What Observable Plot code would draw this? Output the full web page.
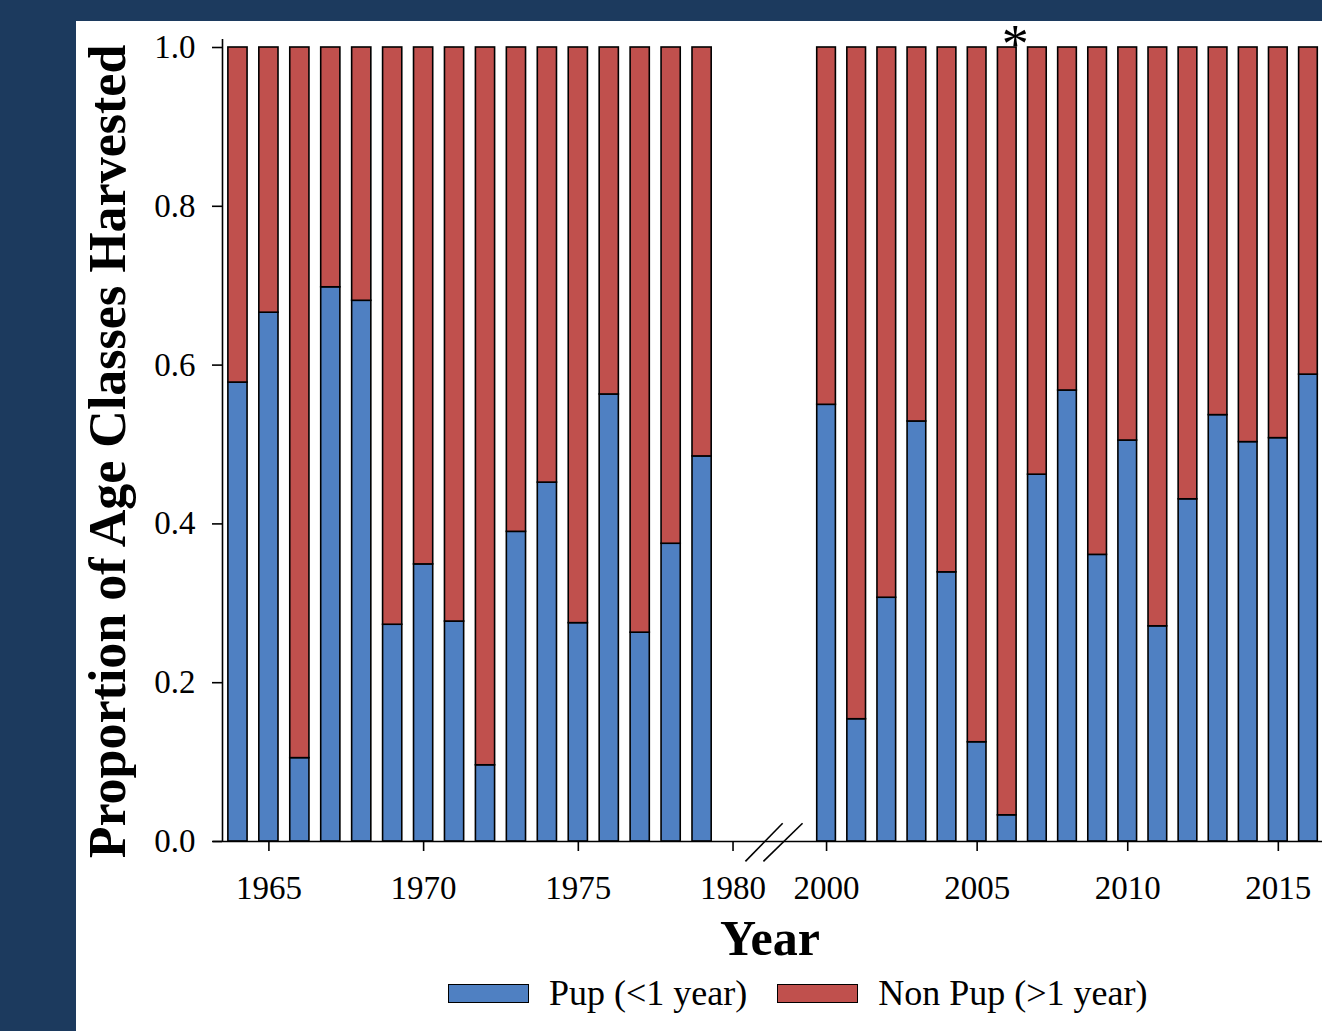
<!DOCTYPE html>
<html><head><meta charset="utf-8">
<script src="https://cdn.jsdelivr.net/npm/d3@7"></script>
<script src="https://cdn.jsdelivr.net/npm/@observablehq/plot@0.6"></script>
<style>
html,body{margin:0;padding:0;background:#1c3a5e;}
body{width:1322px;height:1031px;position:relative;overflow:hidden;}
#panel{position:absolute;left:76px;top:21px;width:1246px;height:1010px;background:#fff;font-family:"Liberation Serif","Times New Roman",serif;color:#000;}
#chart{position:absolute;left:0;top:0;}
#xtitle{position:absolute;left:594px;width:200px;top:892px;text-align:center;font-size:50px;line-height:50px;font-weight:bold;}
#legend{position:absolute;left:372px;top:952px;display:flex;align-items:center;font-size:36px;line-height:40px;white-space:nowrap;}
#legend .sw{width:79px;height:17px;border:1.5px solid #000;margin-right:20px;}
#legend .lab{margin-right:30px;}
</style>
</head><body>
<div id="panel">
  <div id="chart"></div>
  <div id="xtitle"></div>
  <div id="legend"></div>
</div>
<script>
// ---- data ----
const years = [1964,1965,1966,1967,1968,1969,1970,1971,1972,1973,1974,1975,1976,1977,1978,1979,
               2000,2001,2002,2003,2004,2005,2006,2007,2008,2009,2010,2011,2012,2013,2014,2015,2016];
const pupShare = [0.578,0.666,0.105,0.698,0.681,0.273,0.349,0.277,0.096,0.390,0.452,0.275,0.563,0.263,0.375,0.485,
                  0.550,0.154,0.307,0.529,0.339,0.125,0.033,0.462,0.568,0.361,0.505,0.271,0.431,0.537,0.503,0.508,0.588];
const classes = ["Pup (<1 year)", "Non Pup (>1 year)"];
const classColors = ["#4f80c2", "#c0504d"];
const xTicks = [1965,1970,1975,1980,2000,2005,2010,2015];
const yTicks = [0,0.2,0.4,0.6,0.8,1.0];
const markedYears = [2006];
const xDomain = [1963.5, 1980.5, 1999.5, 2016.5];
const breakLines = [ {x1:1980.4, y1:-0.025, x2:1990.8, y2:0.023}, {x1:1985.0, y1:-0.025, x2:1996.8, y2:0.023} ];
const yTitle = "Proportion of Age Classes Harvested";
const xTitle = "Year";

// ---- build table ----
const rows = [];
years.forEach((yr, i) => {
  const p = pupShare[i];
  rows.push({year: yr, cls: classes[0], y1: 0, y2: p});
  rows.push({year: yr, cls: classes[1], y1: p, y2: 1});
});
const halfW = 0.31;

const W = 1246, H = 890;
const mL = 146, mT = 26, mB = 70;

const chart = Plot.plot({
  width: W, height: H,
  marginLeft: mL, marginTop: mT, marginBottom: mB, marginRight: 0,
  style: {fontFamily: '"Liberation Serif","Times New Roman",serif', fontSize: "33px", color: "#000", background: "transparent", overflow: "visible"},
  x: {type: "linear", domain: xDomain, range: [mL, 672, 735, W + 1]},
  y: {domain: [0, 1], range: [H - mB, mT]},
  color: {domain: classes, range: classColors},
  marks: [
    Plot.rect(rows, {x1: d => d.year - halfW, x2: d => d.year + halfW, y1: "y1", y2: "y2", fill: "cls", stroke: "#000", strokeWidth: 1.6}),
    Plot.ruleY([0], {stroke: "#000", strokeWidth: 1.6, insetLeft: -9}),
    Plot.ruleX([xDomain[0]], {stroke: "#000", strokeWidth: 1.6, insetTop: -8}),
    Plot.link(breakLines, {x1: "x1", y1: "y1", x2: "x2", y2: "y2", stroke: "#000", strokeWidth: 1.6}),
    Plot.axisX({ticks: xTicks, tickFormat: d => String(d), tickSize: 10, tickPadding: 24, fontSize: 33, label: null, strokeWidth: 1.6}),
    Plot.axisY({ticks: yTicks, tickFormat: d3.format(".1f"), tickSize: 10, tickPadding: 17, fontSize: 33, label: null, strokeWidth: 1.6}),
    Plot.text(markedYears, {x: d => d, y: () => 1, text: () => "*", fontSize: 54, dx: 8, dy: -3}),
    Plot.text([yTitle], {frameAnchor: "left", dx: -98, dy: 7, rotate: -90, lineAnchor: "bottom", textAnchor: "middle", fontSize: 52, fontWeight: "bold"})
  ]
});
document.getElementById("chart").appendChild(chart);

document.getElementById("xtitle").textContent = xTitle;
const leg = document.getElementById("legend");
classes.forEach((c, i) => {
  const sw = document.createElement("div");
  sw.className = "sw";
  sw.style.background = classColors[i];
  const lab = document.createElement("span");
  lab.className = "lab";
  lab.textContent = c;
  leg.appendChild(sw);
  leg.appendChild(lab);
});
</script>
</body></html>
